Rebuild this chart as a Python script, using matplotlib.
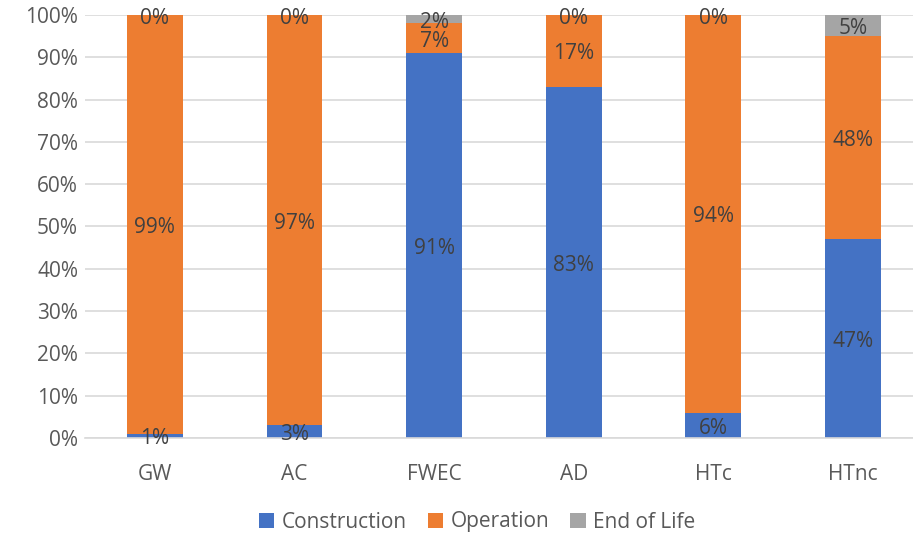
import matplotlib
matplotlib.use("Agg")
import matplotlib.pyplot as plt
import matplotlib.transforms as mtransforms
import numpy as np

categories = ["GW", "AC", "FWEC", "AD", "HTc", "HTnc"]
construction = [1, 3, 91, 83, 6, 47]
operation = [99, 97, 7, 17, 94, 48]
end_of_life = [0, 0, 2, 0, 0, 5]
series_names = ["Construction", "Operation", "End of Life"]
colors = ["#4472C4", "#ED7D31", "#A5A5A5"]

plt.rcParams['font.family'] = ['Open Sans', 'DejaVu Sans']
FS = 15

fig = plt.figure(figsize=(9.13, 5.37), dpi=100)
ax = fig.add_axes([85/913, 1 - 438/537, (922.8 - 85)/913, (438 - 15)/537])
shift = mtransforms.ScaledTranslation(0, -3/100, fig.dpi_scale_trans)

x = np.arange(len(categories))
width = 0.40
bottom = np.zeros(len(categories))
handles = []
for vals, name, col in zip([construction, operation, end_of_life], series_names, colors):
    vals = np.array(vals, dtype=float)
    b = ax.bar(x, vals, width, bottom=bottom, color=col, label=name, zorder=2)
    handles.append(b)
    for xi, v, bt in zip(x, vals, bottom):
        ax.text(xi, bt + v / 2, f"{int(v)}%", ha="center", va="center",
                fontsize=FS, color="#404040", zorder=3,
                transform=ax.transData + shift)
    bottom += vals

ax.set_xlim(-0.5, 5.5)
ax.set_ylim(0, 100)
ax.set_yticks(np.arange(0, 101, 10))
ax.set_yticklabels([f"{v}%" for v in range(0, 101, 10)])
ax.set_xticks(x)
ax.set_xticklabels(categories)
ax.yaxis.grid(True, color="#D9D9D9", linewidth=1.2, zorder=0)
ax.set_axisbelow(True)
for s in ["top", "right", "left"]:
    ax.spines[s].set_visible(False)
ax.spines["bottom"].set_color("#D9D9D9")
ax.spines["bottom"].set_linewidth(1.2)
ax.tick_params(axis="both", length=0, labelsize=FS, colors="#595959")
ax.tick_params(axis="x", pad=19)
ax.tick_params(axis="y", pad=5)

fig.legend(handles=handles, labels=series_names, loc="center",
           bbox_to_anchor=(477/913, 1 - 522/537), ncol=3, frameon=False,
           fontsize=FS, handlelength=0.75, handleheight=0.75,
           handletextpad=0.35, columnspacing=1.0, labelcolor="#595959")

fig.savefig("out.png", dpi=100)
